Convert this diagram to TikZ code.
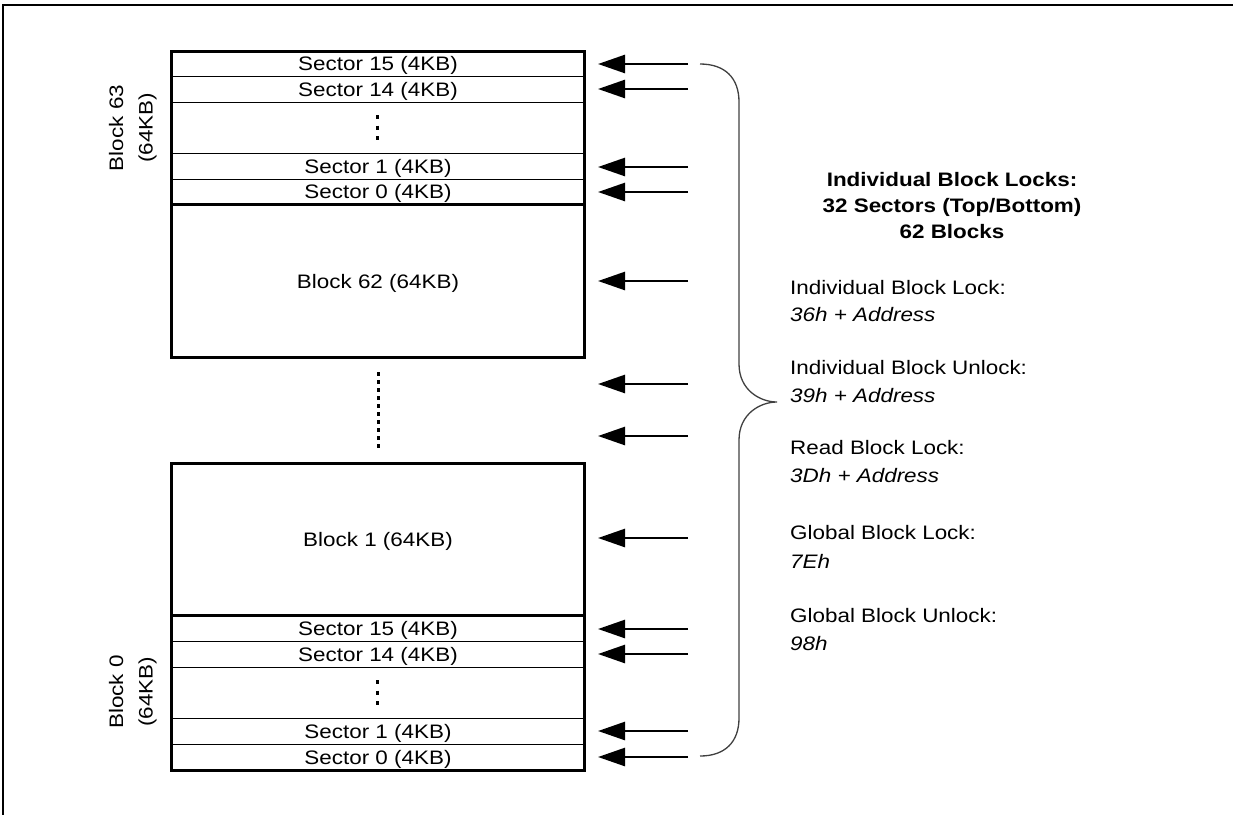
\documentclass[tikz,border=0pt]{standalone}
\usepackage{fontspec}
\setmainfont{Liberation Sans}[FakeStretch=1.15]
\usetikzlibrary{arrows.meta}
\begin{document}
\begin{tikzpicture}[x=1pt,y=-1pt,
  lbl/.style={inner sep=0pt, font=\fontsize{19.5}{23}\selectfont, text height=14pt, text depth=0pt},
  hdr/.style={lbl, font=\fontsize{19.5}{23}\selectfont\bfseries},
  itl/.style={lbl, font=\fontsize{19.5}{23}\selectfont\itshape},
  thickline/.style={line width=3pt},
  thinline/.style={line width=1pt},
  dotline/.style={line width=3pt, dash pattern=on 4pt off 4pt},
  arr/.style={line width=2.6pt, -{Triangle[length=27pt,width=18pt]}},
  brace/.style={line width=1.3pt, draw=black!75},
  frame/.style={line width=2.5pt}
]
\useasboundingbox (0,0) rectangle (1233,814);
% outer frame (top and left edges visible)
\draw[frame] (3,820) -- (3,5) -- (1240,5);

% ---- top group: Block 63 sectors + Block 62
\draw[thinline] (171,76) -- (584,76);
\draw[thinline] (171,102) -- (584,102);
\draw[thinline] (171,153) -- (584,153);
\draw[thinline] (171,179) -- (584,179);
\draw[thickline] (171,204) -- (584,204);
\draw[thickline] (171,51) rectangle (584,357);
\node[lbl] (t15) at (378,63.5) {Sector 15 (4KB)};
\node[lbl] (t14) at (378,89) {Sector 14 (4KB)};
\node[lbl] (t1) at (378,166) {Sector 1 (4KB)};
\node[lbl] (t0) at (378,191.5) {Sector 0 (4KB)};
\draw[line width=3pt, dash pattern=on 4pt off 6.5pt] (377.5,115) -- (377.5,142);
\node[lbl] (b62) at (378,281) {Block 62 (64KB)};
\node[lbl, rotate=90] (b63a) at (116,128) {Block 63};
\node[lbl, rotate=90] (b63b) at (145.5,128) {(64KB)};

% ---- middle dots
\draw[dotline] (378,372) -- (378,448);

% ---- bottom group: Block 1 + Block 0 sectors
\draw[thickline] (171,615) -- (584,615);
\draw[thinline] (171,641) -- (584,641);
\draw[thinline] (171,667) -- (584,667);
\draw[thinline] (171,718) -- (584,718);
\draw[thinline] (171,744) -- (584,744);
\draw[thickline] (171,463) rectangle (584,770);
\node[lbl] (b1) at (378,539) {Block 1 (64KB)};
\node[lbl] (u15) at (378,628) {Sector 15 (4KB)};
\node[lbl] (u14) at (378,654) {Sector 14 (4KB)};
\node[lbl] (u1) at (378,731) {Sector 1 (4KB)};
\node[lbl] (u0) at (378,757) {Sector 0 (4KB)};
\draw[line width=3pt, dash pattern=on 4pt off 6.5pt] (377.5,680) -- (377.5,707);
\node[lbl, rotate=90] (b0a) at (116,692) {Block 0};
\node[lbl, rotate=90] (b0b) at (145.5,692) {(64KB)};

% ---- arrows
\foreach \yy [count=\i] in {64,89,167,192,281,384,436,538,629,654,731,757} {
  \coordinate (as\i) at (688,\yy);
  \coordinate (ae\i) at (598,\yy);
  \draw[arr] (as\i) -- (ae\i);
}

% ---- brace
\coordinate (bt) at (700,64);
\coordinate (bb) at (700,756);
\coordinate (bm) at (777,402);
\draw[brace] (bt) .. controls (725,64) and (739,78) .. (739,102) -- (739,364)
  .. controls (739,390) and (760,402) .. (bm)
  .. controls (760,402) and (739,414) .. (739,440) -- (739,718)
  .. controls (739,742) and (725,756) .. (bb);

% ---- right-hand text
\node[hdr] (h1) at (952,179) {Individual Block Locks:};
\node[hdr] (h2) at (952,205) {32 Sectors (Top/Bottom)};
\node[hdr] (h3) at (952,231) {62 Blocks};

\node[lbl, anchor=west] (l1) at (790,287) {Individual Block Lock:};
\node[itl, anchor=west] (c1) at (790,314) {36h + Address};
\node[lbl, anchor=west] (l2) at (790,367) {Individual Block Unlock:};
\node[itl, anchor=west] (c2) at (790,395) {39h + Address};
\node[lbl, anchor=west] (l3) at (790,447) {Read Block Lock:};
\node[itl, anchor=west] (c3) at (790,475) {3Dh + Address};
\node[lbl, anchor=west] (l4) at (790,532) {Global Block Lock:};
\node[itl, anchor=west] (c4) at (790,561) {7Eh};
\node[lbl, anchor=west] (l5) at (790,615) {Global Block Unlock:};
\node[itl, anchor=west] (c5) at (790,643) {98h};
\end{tikzpicture}
\end{document}
